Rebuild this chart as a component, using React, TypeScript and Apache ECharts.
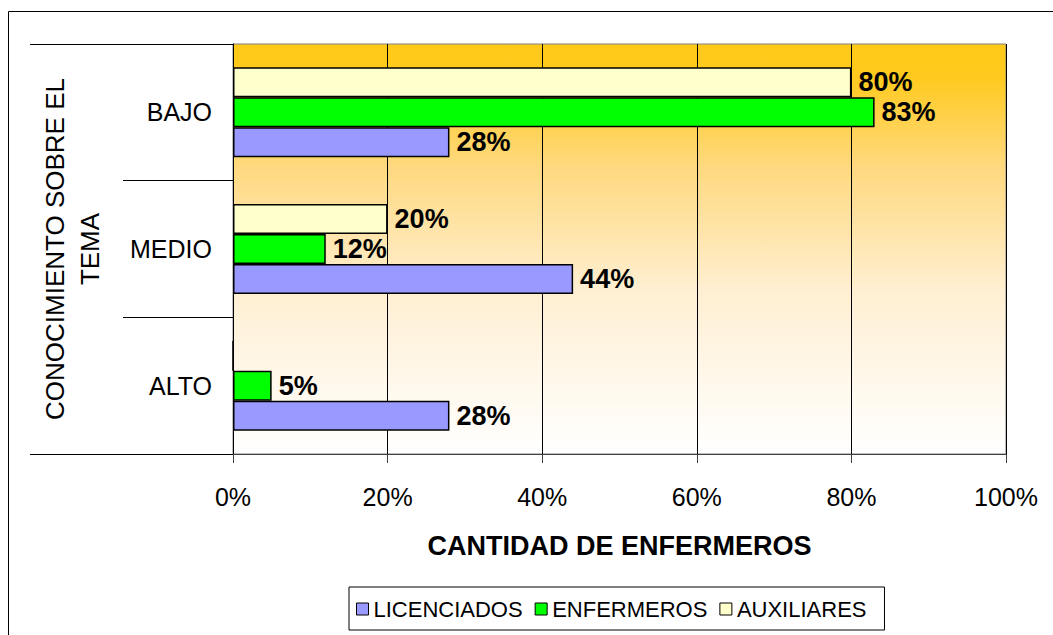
import React, { useEffect, useRef } from "react";
import * as echarts from "echarts";

const categories = ["ALTO", "MEDIO", "BAJO"];
const licenciados = [28, 44, 28];
const enfermeros = [5, 12, 83];
const auxiliares = [0, 20, 80];
const xTicks = [0, 20, 40, 60, 80, 100];
const seriesNames = ["LICENCIADOS", "ENFERMEROS", "AUXILIARES"];
const xTitle = "CANTIDAD DE ENFERMEROS";
const yTitle = "CONOCIMIENTO SOBRE EL\nTEMA";

const FONT = 'Arial, "Liberation Sans", sans-serif';

export default function App() {
  const ref = useRef<HTMLDivElement>(null);
  useEffect(() => {
    if (!ref.current) return;
    const chart = echarts.init(ref.current, undefined, { renderer: "svg" });
    const colors = ["#9999FF", "#00FF00", "#FFFFCC"];
    const values = [licenciados, enfermeros, auxiliares];
    const G = { left: 233, top: 44, right: 1006, bottom: 454 };
    const mkSeries = (i: number) => ({
      name: seriesNames[i],
      type: "bar",
      data: values[i],
      barWidth: 30,
      barGap: "0%",
      itemStyle: { color: colors[i], borderColor: "#000", borderWidth: 1.5 },
      label: {
        show: true,
        position: "right",
        distance: 7,
        fontFamily: FONT,
        fontWeight: "bold",
        fontSize: 27,
        color: "#000",
        formatter: (p: any) => (p.value ? p.value + "%" : ""),
      },
    });
    const bgGradient = new echarts.graphic.LinearGradient(0, 0, 0, 1, [
      { offset: 0, color: "#FFC918" },
      { offset: 0.08, color: "#FFCA1E" },
      { offset: 0.3, color: "#FFD97F" },
      { offset: 0.6, color: "#FFEFD2" },
      { offset: 1, color: "#FFFFFF" },
    ]);
    chart.setOption({
      animation: false,
      backgroundColor: "#fff",
      textStyle: { fontFamily: FONT },
      color: colors,
      grid: {
        left: G.left,
        top: G.top,
        width: G.right - G.left,
        height: G.bottom - G.top,
        show: true,
        borderColor: "#808080",
        borderWidth: 1,
        backgroundColor: "transparent",
      },
      legend: {
        data: seriesNames,
        left: 349,
        top: 587,
        orient: "horizontal",
        icon: "rect",
        itemWidth: 12,
        itemHeight: 12,
        itemGap: 12,
        padding: [11, 18, 10, 7],
        borderColor: "#000",
        borderWidth: 1,
        backgroundColor: "#fff",
        textStyle: { fontFamily: FONT, fontSize: 22, color: "#000" },
        itemStyle: { borderColor: "#000", borderWidth: 1 },
      },
      xAxis: {
        type: "value",
        min: 0,
        max: 100,
        interval: 20,
        name: xTitle,
        nameLocation: "middle",
        nameGap: 78,
        nameTextStyle: { fontFamily: FONT, fontSize: 27, fontWeight: "bold", color: "#000" },
        axisLine: { show: true, lineStyle: { color: "#404040", width: 1 } },
        axisTick: { show: true, length: 9, lineStyle: { color: "#404040" } },
        axisLabel: {
          fontFamily: FONT,
          fontSize: 25,
          color: "#000",
          margin: 30,
          formatter: (v: number) => (xTicks.includes(v) ? v + "%" : ""),
        },
        splitLine: { show: true, lineStyle: { color: "#000", width: 1 } },
      },
      yAxis: {
        type: "category",
        data: categories,
        name: yTitle,
        nameLocation: "middle",
        nameGap: 126,
        nameRotate: 90,
        nameTextStyle: { fontFamily: FONT, fontSize: 26, color: "#000", lineHeight: 35 },
        axisLine: { show: true, lineStyle: { color: "#000", width: 1 } },
        axisTick: { show: true, length: 110, alignWithLabel: false, lineStyle: { color: "#000" } },
        axisLabel: { fontFamily: FONT, fontSize: 25, color: "#000", margin: 21 },
      },
      graphic: [
        {
          type: "rect",
          z: -10,
          silent: true,
          shape: { x: G.left, y: G.top, width: G.right - G.left, height: G.bottom - G.top },
          style: { fill: bgGradient },
        },
        {
          type: "rect",
          shape: { x: 8.5, y: 11.5, width: 1100, height: 700 },
          style: { fill: "none", stroke: "#000", lineWidth: 1 },
          silent: true,
        },
        {
          type: "line",
          shape: { x1: 30, y1: G.top + 0.5, x2: 124, y2: G.top + 0.5 },
          style: { stroke: "#000", lineWidth: 1 },
        },
        {
          type: "line",
          shape: { x1: 30, y1: G.bottom + 0.5, x2: 124, y2: G.bottom + 0.5 },
          style: { stroke: "#000", lineWidth: 1 },
        },
      ],
      series: [mkSeries(2), mkSeries(1), mkSeries(0)],
    });
    return () => chart.dispose();
  }, []);
  return (
    <div
      ref={ref}
      style={{ position: "absolute", left: 0, top: 0, width: 1053, height: 635 }}
    />
  );
}
